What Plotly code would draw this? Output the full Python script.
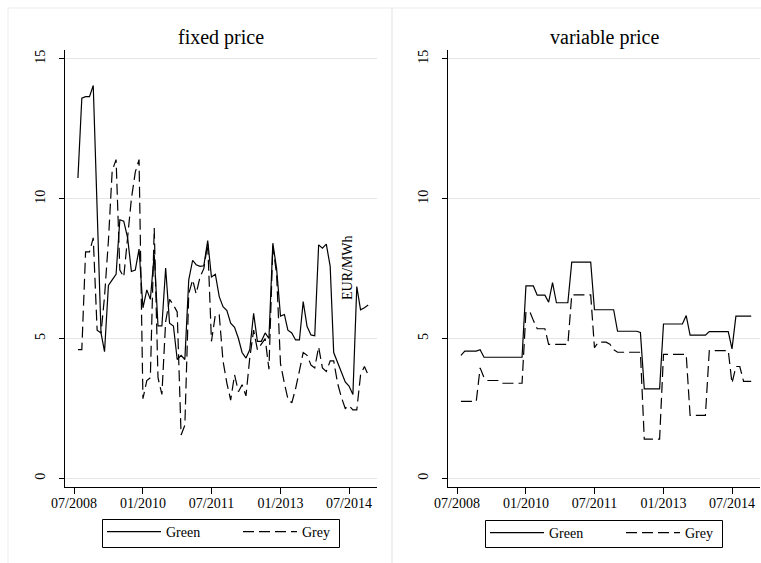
import plotly.graph_objects as go
import pandas as pd

# ---------------- data ----------------
months = pd.date_range("2008-08-01", "2014-12-01", freq="MS")

fixed_green = [
    10.74, 13.6, 13.65, 13.65, 14.05, 9.6, 5.2, 4.53, 6.9, 7.1,
    7.3, 9.25, 9.2, 8.6, 7.4, 7.45, 8.2, 6.1, 6.74, 6.4,
    8.0, 5.45, 5.45, 7.52, 5.55, 5.45, 4.25, 4.4, 4.25, 7.1,
    7.8, 7.64, 7.58, 7.6, 8.5, 7.2, 7.3, 6.5, 6.14, 6.0,
    5.55, 5.4, 5.0, 4.5, 4.3, 4.6, 5.9, 4.9, 4.9, 5.2,
    5.0, 8.41, 7.5, 5.8, 5.86, 5.3, 5.2, 4.95, 4.95, 6.32,
    5.43, 5.13, 5.1, 8.35, 8.23, 8.38, 7.58, 4.5, 4.15, 3.8,
    3.45, 3.3, 3.0, 6.86, 6.03, 6.1, 6.2,
]
fixed_grey = [
    4.6, 4.6, 8.1, 8.1, 8.6, 5.3, 5.2, 6.5, 8.5, 11.0,
    11.4, 7.45, 7.2, 8.6, 10.0, 10.95, 11.4, 2.85, 3.5, 3.6,
    8.95, 3.6, 3.0, 5.6, 6.4, 6.2, 5.95, 1.55, 1.9, 6.6,
    7.1, 6.6, 7.2, 7.5, 8.4, 4.9, 5.85, 5.85, 4.2, 3.4,
    2.8, 3.7, 3.1, 3.35, 2.95, 4.3, 5.3, 4.6, 4.8, 5.0,
    3.9, 8.3, 7.3, 4.1, 3.4, 2.85, 2.7, 3.2, 3.85, 4.5,
    4.4, 4.05, 3.95, 4.7, 3.95, 3.82, 4.2, 4.2, 3.4, 2.9,
    2.5, 2.6, 2.45, 2.45, 3.7, 4.0, 3.7,
]
variable_green = (
    [4.4] + [4.55] * 4 + [4.6] + [4.33] * 11 + [6.88] * 3 + [6.55] * 3
    + [6.3, 7.0] + [6.28] * 4 + [7.73] * 6 + [6.03] * 6 + [5.26] * 6 + [5.22]
    + [3.2] * 5 + [5.52] * 6 + [5.82] + [5.12] * 5 + [5.25] * 6 + [4.63]
    + [5.8] * 5
)
variable_grey = (
    [2.75] * 5 + [3.95, 3.6] + [3.5] * 4 + [3.4] * 6 + [5.96] * 2 + [5.65]
    + [5.35] * 3 + [4.79] * 6 + [6.56] * 6 + [4.67] + [4.87] * 3 + [4.8, 4.6]
    + [4.51] * 7 + [1.4] * 5 + [4.43] * 7 + [2.25] * 5 + [4.57] * 6 + [3.4]
    + [4.0] * 2 + [3.47] * 3
)

panel_titles = ["fixed price", "variable price"]
series_names = ["Green", "Grey"]
x_tick_dates = ["2008-07-01", "2010-01-01", "2011-07-01", "2013-01-01", "2014-07-01"]
x_tick_text = ["07/2008", "01/2010", "07/2011", "01/2013", "07/2014"]
y_ticks = [0, 5, 10, 15]
y_unit = "EUR/MWh"

# ---------------- figure ----------------
W, H = 761, 563
FONT = "Liberation Serif"


def px_x(v):
    return v / W


def px_y(v):
    return (H - v) / H


fig = go.Figure()

fig.add_trace(go.Scatter(x=months, y=fixed_green, mode="lines", name=series_names[0],
                         line=dict(color="black", width=1.2),
                         xaxis="x", yaxis="y", legend="legend"))
fig.add_trace(go.Scatter(x=months, y=fixed_grey, mode="lines", name=series_names[1],
                         line=dict(color="black", width=1.2, dash="11px,5px"),
                         xaxis="x", yaxis="y", legend="legend"))
fig.add_trace(go.Scatter(x=months, y=variable_green, mode="lines", name=series_names[0],
                         line=dict(color="black", width=1.2),
                         xaxis="x2", yaxis="y2", legend="legend2"))
fig.add_trace(go.Scatter(x=months, y=variable_grey, mode="lines", name=series_names[1],
                         line=dict(color="black", width=1.2, dash="11px,5px"),
                         xaxis="x2", yaxis="y2", legend="legend2"))

xrange = ["2008-04-20", "2015-02-09"]
yrange = [-0.31, 15.32]
ydom = [px_y(487), px_y(50)]

xcommon = dict(type="date", range=xrange, tickmode="array", tickvals=x_tick_dates,
               ticktext=x_tick_text, showgrid=False, zeroline=False,
               showline=True, linecolor="black", linewidth=1,
               ticks="outside", ticklen=6, tickcolor="black", tickwidth=1,
               ticklabelstandoff=-3,
               tickfont=dict(family=FONT, size=14, color="black"),
               automargin=False)
ycommon = dict(range=yrange, tickmode="array", tickvals=y_ticks,
               showgrid=True, gridcolor="#e6e6e6", gridwidth=1.2, zeroline=False,
               showline=True, linecolor="black", linewidth=1,
               ticks="outside", ticklen=5, tickcolor="black", tickwidth=1,
               tickangle=-90, ticklabelstandoff=8,
               tickfont=dict(family=FONT, size=14, color="black"),
               domain=ydom, automargin=False)

fig.update_layout(
    xaxis=dict(xcommon, domain=[px_x(65), px_x(377)], anchor="y"),
    yaxis=dict(ycommon, anchor="x"),
    xaxis2=dict(xcommon, domain=[px_x(448), px_x(760)], anchor="y2"),
    yaxis2=dict(ycommon, anchor="x2"),
)

legend_common = dict(orientation="h", xanchor="left", yanchor="top",
                     borderwidth=0, bgcolor="rgba(0,0,0,0)",
                     font=dict(family=FONT, size=14, color="black"),
                     itemwidth=54, entrywidth=67, entrywidthmode="pixels",
                     tracegroupgap=0, itemclick=False, itemdoubleclick=False)
fig.update_layout(
    legend=dict(legend_common, x=px_x(102), y=px_y(516)),
    legend2=dict(legend_common, x=px_x(485), y=px_y(517)),
)

annotations = [
    dict(text=panel_titles[0], x=px_x(221), y=px_y(38), xref="paper", yref="paper",
         showarrow=False, font=dict(family=FONT, size=20, color="black"),
         xanchor="center", yanchor="middle"),
    dict(text=panel_titles[1], x=px_x(604), y=px_y(38), xref="paper", yref="paper",
         showarrow=False, font=dict(family=FONT, size=20, color="black"),
         xanchor="center", yanchor="middle"),
    dict(text=y_unit, x=px_x(347), y=px_y(268), xref="paper", yref="paper",
         showarrow=False, textangle=-90, font=dict(family=FONT, size=14, color="black"),
         xanchor="center", yanchor="middle"),
]

shapes = [
    # light outer frames of the two graph regions
    dict(type="rect", xref="paper", yref="paper", x0=px_x(8), x1=px_x(392),
         y0=px_y(8), y1=-0.2, line=dict(color="#ebebeb", width=1), layer="below"),
    dict(type="rect", xref="paper", yref="paper", x0=px_x(392), x1=1.2,
         y0=px_y(8), y1=-0.2, line=dict(color="#ebebeb", width=1), layer="below"),
    # legend frames
    dict(type="rect", xref="paper", yref="paper", x0=px_x(102.5), x1=px_x(339.5),
         y0=px_y(519.5), y1=px_y(547.5), line=dict(color="black", width=1),
         fillcolor="white", layer="below"),
    dict(type="rect", xref="paper", yref="paper", x0=px_x(485.5), x1=px_x(722.5),
         y0=px_y(520.5), y1=px_y(547.5), line=dict(color="black", width=1),
         fillcolor="white", layer="below"),
]

fig.update_layout(
    width=W, height=H,
    margin=dict(l=0, r=0, t=0, b=0, autoexpand=False),
    paper_bgcolor="white", plot_bgcolor="white",
    annotations=annotations, shapes=shapes,
    font=dict(family=FONT, color="black"),
    showlegend=True,
)

fig.write_html("out.html")
